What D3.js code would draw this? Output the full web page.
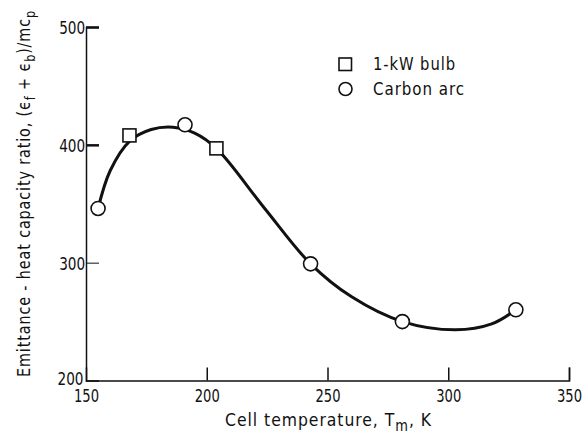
<!DOCTYPE html>
<html>
<head>
<meta charset="utf-8">
<script src="https://cdn.jsdelivr.net/npm/d3@7/dist/d3.min.js"></script>
<style>
  body { margin: 0; background: #fff; }
  svg text { font-family: "DejaVu Sans Condensed", "DejaVu Sans", sans-serif; fill: #111; }
  .title { letter-spacing: 1px; }
</style>
</head>
<body>
<svg id="graph" width="583" height="439"></svg>
<script>
// measured data
const bulbT = [168, 204];
const bulbRatio = [408, 397];
const arcT = [155, 191, 243, 281, 328];
const arcRatio = [346, 417, 299, 250, 260];

// faired curve
const curveT = [155, 160, 168, 177, 186, 195, 204, 224, 243, 260, 281, 303, 318, 328];
const curveRatio = [346, 378, 403, 413, 415, 410, 397, 346, 299, 271, 250, 243, 248, 260];

const xTicks = [150, 200, 250, 300, 350];
const yTicks = [200, 300, 400, 500];

let svg = d3.select("#graph");

let x = d3.scaleLinear().domain([150, 350]).range([86, 569]);
let y = d3.scaleLinear().domain([200, 500]).range([380.5, 27]);

//squeeze a text horizontally so it fills a given width (the original lettering is condensed)
function squeeze(sel, targetW)
{
    sel.each(function() {
        let w = this.getBBox().width;
        let old = d3.select(this).attr("transform") || "";
        d3.select(this).attr("transform", old + " scale(" + (targetW / w) + ",1)");
    });
}

//x axis
let xAxis = svg.append("g")
.attr("transform", "translate(0," + y(200) + ")")
.call(d3.axisBottom(x).tickValues(xTicks).tickSize(-13).tickPadding(9).tickFormat(d3.format("d")));

//y axis
let yAxis = svg.append("g")
.attr("transform", "translate(" + x(150) + ",0)")
.call(d3.axisLeft(y).tickValues(yTicks).tickSize(-13).tickPadding(1).tickFormat(d3.format("d")));

[xAxis, yAxis].forEach((a) => {
    a.select(".domain").attr("stroke", "#111").attr("stroke-width", 1.5);
    a.selectAll(".tick line").attr("stroke", "#111").attr("stroke-width", 1.5);
    a.selectAll(".tick text").style("font-size", "18px").attr("fill", "#111");
});
xAxis.selectAll(".tick").filter((d) => d == 150).select("line").remove();
yAxis.selectAll(".tick").filter((d) => d == 200).select("line").remove();
yAxis.selectAll(".tick").filter((d) => d >= 400).select("line").attr("stroke-width", 2.5);
yAxis.selectAll(".tick").filter((d) => d == 300).select("line").attr("stroke-width", 1);
yAxis.selectAll(".tick text").attr("dy", "0.36em");
yAxis.selectAll(".tick").filter((d) => d == 200).select("text").attr("x", -3).attr("dy", "0.22em");
squeeze(xAxis.selectAll(".tick text"), 25);
squeeze(yAxis.selectAll(".tick text"), 26);

//axis titles
let xt = svg.append("g")
.attr("transform", "translate(328.5,426)")
.append("text")
.attr("class", "title")
.attr("text-anchor", "middle")
.style("font-size", "18px");
xt.append("tspan").text("Cell temperature, T");
xt.append("tspan").attr("dy", 5).style("font-size", "15px").text("m");
xt.append("tspan").attr("dy", -5).text(", K");
squeeze(xt, 207);

let yt = svg.append("g")
.attr("transform", "translate(30,193.5) rotate(-90)")
.append("text")
.attr("class", "title")
.attr("text-anchor", "middle")
.style("font-size", "18px");
yt.append("tspan").text("Emittance - heat capacity ratio, (\u03F5");
yt.append("tspan").attr("dy", 5).style("font-size", "14px").text("f");
yt.append("tspan").attr("dy", -5).text(" + \u03F5");
yt.append("tspan").attr("dy", 5).style("font-size", "14px").text("b");
yt.append("tspan").attr("dy", -5).text(")/mc");
yt.append("tspan").attr("dy", 5).style("font-size", "14px").text("p");
squeeze(yt, 367);

//curve
let curvePts = curveT.map((t, i) => [x(t), y(curveRatio[i])]);
svg.append("path")
.attr("d", d3.line().curve(d3.curveCatmullRom.alpha(0.5))(curvePts))
.attr("fill", "none")
.attr("stroke", "#111")
.attr("stroke-width", 3);

//markers
svg.selectAll(".bulb")
.data(bulbT)
.enter()
.append("rect")
.attr("class", "bulb")
.attr("x", (d) => x(d) - 6.5)
.attr("y", (d, i) => y(bulbRatio[i]) - 6.5)
.attr("width", 13)
.attr("height", 13)
.attr("fill", "#fff")
.attr("stroke", "#111")
.attr("stroke-width", 1.6);

svg.selectAll(".arc")
.data(arcT)
.enter()
.append("circle")
.attr("class", "arc")
.attr("cx", (d) => x(d))
.attr("cy", (d, i) => y(arcRatio[i]))
.attr("r", 7)
.attr("fill", "#fff")
.attr("stroke", "#111")
.attr("stroke-width", 1.6);

//legend
let legend = svg.append("g");
legend.append("rect")
.attr("x", 339).attr("y", 58).attr("width", 12.5).attr("height", 12.5)
.attr("fill", "#fff").attr("stroke", "#111").attr("stroke-width", 1.6);
legend.append("circle")
.attr("cx", 345.5).attr("cy", 89).attr("r", 6.5)
.attr("fill", "#fff").attr("stroke", "#111").attr("stroke-width", 1.6);
let l1 = legend.append("g").attr("transform", "translate(373,70)")
.append("text").attr("class", "title").style("font-size", "18px").text("1-kW bulb");
let l2 = legend.append("g").attr("transform", "translate(373,95)")
.append("text").attr("class", "title").style("font-size", "18px").text("Carbon arc");
squeeze(l1, 83);
squeeze(l2, 92);
</script>
</body>
</html>
